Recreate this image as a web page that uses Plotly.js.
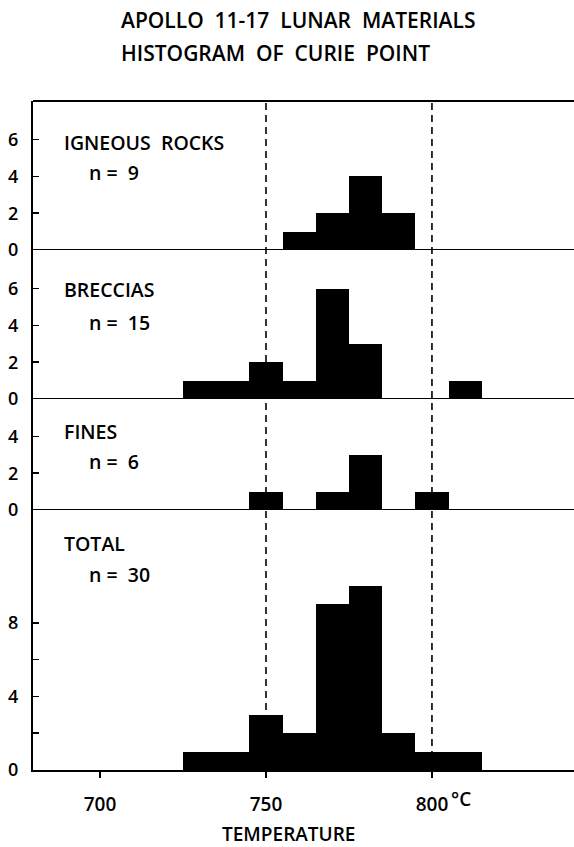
<!DOCTYPE html>
<html>
<head>
<meta charset="utf-8">
<script src="https://cdn.plot.ly/plotly-3.0.1.min.js"></script>
<style>html,body{margin:0;padding:0;background:#fff;}#chart{width:574px;height:847px;}</style>
</head>
<body>
<div id="chart"></div>
<script>
// Bin centres (°C), bin width 10
const binCenters = [730, 740, 750, 760, 770, 780, 790, 800, 810];
const igneous   = [0, 0, 0, 1, 2, 4, 2, 0, 0];
const breccias  = [1, 1, 2, 1, 6, 3, 0, 0, 1];
const fines     = [0, 0, 1, 0, 1, 3, 0, 1, 0];
const total     = [1, 1, 3, 2, 9, 10, 2, 1, 1];
const panelNames = ["IGNEOUS  ROCKS", "BRECCIAS", "FINES", "TOTAL"];
const panelCounts = ["n =  9", "n =  15", "n =  6", "n =  30"];
const xTickVals = [700, 750, 800];
const xTickText = ["700", "750", "800"];
const refLines = [750, 800];

const W = 574, H = 847;
const ml = 33, mr = 0, mt = 101, mb = 77;
const plotH = H - mt - mb;
const py = p => (H - mb - p) / plotH;   // pixel row -> paper y
const px = p => (p - ml) / (W - ml - mr); // pixel col -> paper x

const FONT = "Open Sans";
const black = "#000";
const f = (size) => ({family: FONT, size: size, color: black, weight: 600});

function barTrace(vals, yax) {
  return {
    type: "bar", x: binCenters, y: vals, width: 10,
    xaxis: "x", yaxis: yax,
    marker: {color: black, line: {width: 0}},
    hoverinfo: "skip", showlegend: false
  };
}

const data = [
  barTrace(total, "y"),
  barTrace(fines, "y2"),
  barTrace(breccias, "y3"),
  barTrace(igneous, "y4")
];

function yax(domain, range, tickvals, ticktext) {
  return {
    domain: domain, range: range, anchor: "x",
    tickmode: "array", tickvals: tickvals, ticktext: ticktext,
    ticks: "inside", ticklen: 6, tickwidth: 1.5, tickcolor: black,
    showline: true, linewidth: 2, linecolor: black,
    showgrid: false, zeroline: false, fixedrange: true,
    ticklabelstandoff: 9,
    tickfont: f(18)
  };
}

const d1 = py(250), d2 = py(399), d3 = py(510);

const shapes = [];
["y2", "y3", "y4"].forEach(a => shapes.push({
  type: "line", xref: "paper", x0: 0, x1: 1, yref: a, y0: 0, y1: 0,
  line: {color: black, width: 2}
}));
shapes.push({type: "line", xref: "paper", x0: 0, x1: 1, yref: "paper", y0: 1, y1: 1,
  line: {color: black, width: 2}});
refLines.forEach(v => shapes.push({
  type: "line", xref: "x", x0: v, x1: v, yref: "paper", y0: 0, y1: 1,
  line: {color: black, width: 1.6, dash: "7px,5px"}
}));

const labelRows = [[142, 172], [289, 322], [431, 461], [543, 574]];
const annotations = [];
panelNames.forEach((n, i) => {
  annotations.push({text: n, xref: "paper", yref: "paper", x: px(62), y: py(labelRows[i][0]),
    xanchor: "left", yanchor: "middle", showarrow: false, font: f(19.5)});
  annotations.push({text: panelCounts[i], xref: "paper", yref: "paper", x: px(87), y: py(labelRows[i][1]),
    xanchor: "left", yanchor: "middle", showarrow: false, font: f(19.5)});
});
annotations.push({text: "APOLLO  11-17  LUNAR  MATERIALS", xref: "paper", yref: "paper",
  x: px(119), y: py(20), xanchor: "left", yanchor: "middle", showarrow: false, font: f(21)});
annotations.push({text: "HISTOGRAM  OF  CURIE  POINT", xref: "paper", yref: "paper",
  x: px(119), y: py(53), xanchor: "left", yanchor: "middle", showarrow: false, font: f(21)});
annotations.push({text: "TEMPERATURE", xref: "paper", yref: "paper",
  x: px(288), y: py(834), xanchor: "center", yanchor: "middle", showarrow: false, font: f(19)});
annotations.push({text: "°C", xref: "x", yref: "paper",
  x: 800, xshift: 17, y: py(799), xanchor: "left", yanchor: "middle", showarrow: false, font: f(19)});

const layout = {
  width: W, height: H,
  margin: {l: ml, r: mr, t: mt, b: mb, pad: 0},
  paper_bgcolor: "#fff", plot_bgcolor: "#fff",
  bargap: 0, barmode: "overlay", showlegend: false,
  xaxis: {
    range: [679.8, 842.8], anchor: "y",
    tickmode: "array", tickvals: xTickVals, ticktext: xTickText,
    ticks: "outside", ticklen: 6, tickwidth: 1.5, tickcolor: black,
    showline: true, linewidth: 2, linecolor: black,
    showgrid: false, zeroline: false, fixedrange: true,
    ticklabelstandoff: 10,
    tickfont: f(19)
  },
  yaxis: yax([0, d3], [0, plotH * d3 / 18.4], [0, 2, 4, 6, 8], ["0", "", "4", "", "8"]),
  yaxis2: yax([d3, d2], [0, plotH * (d2 - d3) / 18.4], [0, 2, 4], ["0", "2", "4"]),
  yaxis3: yax([d2, d1], [0, plotH * (d1 - d2) / 18.4], [0, 2, 4, 6], ["0", "2", "4", "6"]),
  yaxis4: yax([d1, 1], [0, plotH * (1 - d1) / 18.4], [0, 2, 4, 6], ["0", "2", "4", "6"]),
  shapes: shapes,
  annotations: annotations
};

Plotly.newPlot("chart", data, layout, {displayModeBar: false, staticPlot: true});
</script>
</body>
</html>
